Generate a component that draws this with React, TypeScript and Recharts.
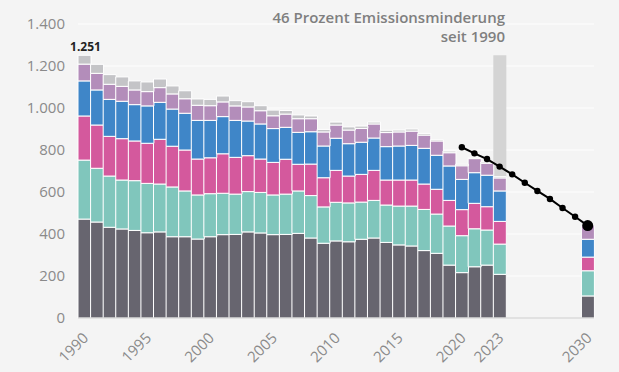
import { ComposedChart, Bar, Line, XAxis, YAxis, CartesianGrid, LabelList } from 'recharts'

const years = [
  '1990', '1991', '1992', '1993', '1994', '1995', '1996', '1997', '1998', '1999',
  '2000', '2001', '2002', '2003', '2004', '2005', '2006', '2007', '2008', '2009',
  '2010', '2011', '2012', '2013', '2014', '2015', '2016', '2017', '2018', '2019',
  '2020', '2021', '2022', '2023', '2024', '2025', '2026', '2027', '2028', '2029', '2030',
]

const _ = null

// Mio. t CO2-Äquivalente je Sektor (von unten nach oben)
const energie = [471, 457, 432, 424, 417, 406, 410, 387, 387, 376, 387, 397, 398, 410, 405, 397, 398, 403, 381, 356, 367, 363, 375, 381, 360, 348, 343, 321, 308, 252, 216, 244, 252, 208, _, _, _, _, _, _, 105]
const industrie = [281, 256, 244, 233, 237, 235, 228, 237, 218, 210, 205, 197, 192, 192, 193, 189, 192, 202, 202, 173, 184, 185, 177, 179, 178, 185, 190, 196, 187, 186, 176, 181, 167, 144, _, _, _, _, _, _, 120]
const gebaeude = [210, 206, 189, 197, 189, 191, 213, 194, 195, 171, 171, 188, 175, 171, 159, 155, 166, 127, 150, 139, 152, 128, 132, 143, 119, 124, 124, 121, 118, 122, 124, 121, 111, 108, _, _, _, _, _, _, 65]
const verkehr = [167, 167, 176, 178, 173, 178, 176, 177, 175, 184, 178, 177, 176, 165, 167, 161, 152, 152, 154, 151, 153, 154, 153, 154, 159, 162, 165, 170, 162, 164, 144, 146, 150, 145, _, _, _, _, _, _, 85]
const landwirtschaft = [80, 79, 72, 71, 70, 68, 70, 72, 69, 72, 70, 70, 69, 67, 63, 61, 63, 65, 62, 67, 63, 65, 66, 67, 67, 67, 68, 63, 68, 63, 65, 67, 57, 62, _, _, _, _, _, _, 65]
const abfall = [42, 43, 46, 45, 43, 46, 41, 38, 38, 30, 30, 28, 25, 25, 24, 27, 17, 18, 13, 12, 14, 15, 11, 9, 11, 9, 10, 8, 6, 8, 7, 6, 6, 6, _, _, _, _, _, _, 0]

const zielpfad = [_, _, _, _, _, _, _, _, _, _, _, _, _, _, _, _, _, _, _, _, _, _, _, _, _, _, _, _, _, _, 813, 784, 757, 721, 684, 644, 605, 567, 524, 482, 440]
const referenz = [_, _, _, _, _, _, _, _, _, _, _, _, _, _, _, _, _, _, _, _, _, _, _, _, _, _, _, _, _, _, _, _, _, 1251, _, _, _, _, _, _, _]

const yTicks = [0, 200, 400, 600, 800, 1000, 1200, 1400]
const xLabels = ['1990', '1995', '2000', '2005', '2010', '2015', '2020', '2023', '2030']

const data = years.map((year, i) => ({
  year,
  energie: energie[i],
  industrie: industrie[i],
  gebaeude: gebaeude[i],
  verkehr: verkehr[i],
  landwirtschaft: landwirtschaft[i],
  abfall: abfall[i],
  ziel: zielpfad[i],
  referenz: referenz[i],
}))

const FONT = '"Open Sans", sans-serif'
const TEXT_GRAY = '#8a8a8a'

const fmt = (v: number) => String(v).replace(/\B(?=(\d{3})+(?!\d))/g, '.')

const XTick = ({ x, y, payload }: any) => {
  if (!xLabels.includes(payload.value)) return null
  const ax = x + 5
  const ay = y + 13
  return (
    <text x={ax} y={ay} transform={`rotate(-45 ${ax} ${ay})`} textAnchor="end" fill={TEXT_GRAY} fontSize={15} fontFamily={FONT}>
      {payload.value}
    </text>
  )
}

const ZielDot = (props: any) => {
  const { cx, cy, index, value } = props
  if (value == null || cx == null) return null
  const r = index === years.length - 1 ? 5.5 : 3.2
  return <circle key={index} cx={cx} cy={cy} r={r} fill="#000" />
}

const TotalLabel = (props: any) => {
  const { x, y, width, index } = props
  if (index !== 0) return null
  const total = energie[0] + industrie[0] + gebaeude[0] + verkehr[0] + landwirtschaft[0] + (abfall[0] ?? 0)
  return (
    <text x={x + width / 2 + 1} y={y - 4} textAnchor="middle" fill="#222" fontSize={12} fontWeight={700} fontFamily={FONT}>
      {fmt(total)}
    </text>
  )
}

const segments = [
  { key: 'energie', color: '#67656f' },
  { key: 'industrie', color: '#80c6bc' },
  { key: 'gebaeude', color: '#d4599d' },
  { key: 'verkehr', color: '#3f86c8' },
  { key: 'landwirtschaft', color: '#b38dba' },
  { key: 'abfall', color: '#c4c4c7' },
]

export default function App() {
  return (
    <div style={{ position: 'absolute', left: 0, top: 0, width: 619, height: 372, background: '#f4f4f4', fontFamily: FONT }}>
      <ComposedChart width={619} height={372} data={data} margin={{ top: 24, right: 25, bottom: 0, left: 0 }} barCategoryGap={0}>
        <CartesianGrid vertical={false} stroke="#ffffff" strokeOpacity={0.9} />
        <XAxis xAxisId="bg" dataKey="year" hide />
        <XAxis
          dataKey="year"
          interval={0}
          tick={<XTick />}
          tickLine={false}
          axisLine={{ stroke: '#c9c9c9' }}
          height={54}
        />
        <YAxis
          domain={[0, 1400]}
          ticks={yTicks}
          tickFormatter={fmt}
          axisLine={false}
          tickLine={false}
          tickSize={0}
          tickMargin={13}
          width={78}
          tick={{ fill: TEXT_GRAY, fontSize: 15, fontFamily: FONT }}
        />
        <Bar xAxisId="bg" dataKey="referenz" fill="#d4d4d4" isAnimationActive={false} />
        {segments.map((s, i) => (
          <Bar key={s.key} dataKey={s.key} stackId="a" fill={s.color} stroke="#ffffff" strokeWidth={1} isAnimationActive={false}>
            {i === segments.length - 1 && <LabelList dataKey="abfall" content={<TotalLabel />} />}
          </Bar>
        ))}
        <Line dataKey="ziel" stroke="#000" strokeWidth={2} dot={<ZielDot />} activeDot={false} isAnimationActive={false} />
      </ComposedChart>
      <div
        style={{
          position: 'absolute',
          right: 114,
          top: 8,
          textAlign: 'right',
          fontSize: 15,
          lineHeight: '19px',
          fontWeight: 600,
          color: '#7f7f7f',
        }}
      >
        46 Prozent Emissionsminderung
        <br />
        seit 1990
      </div>
    </div>
  )
}
